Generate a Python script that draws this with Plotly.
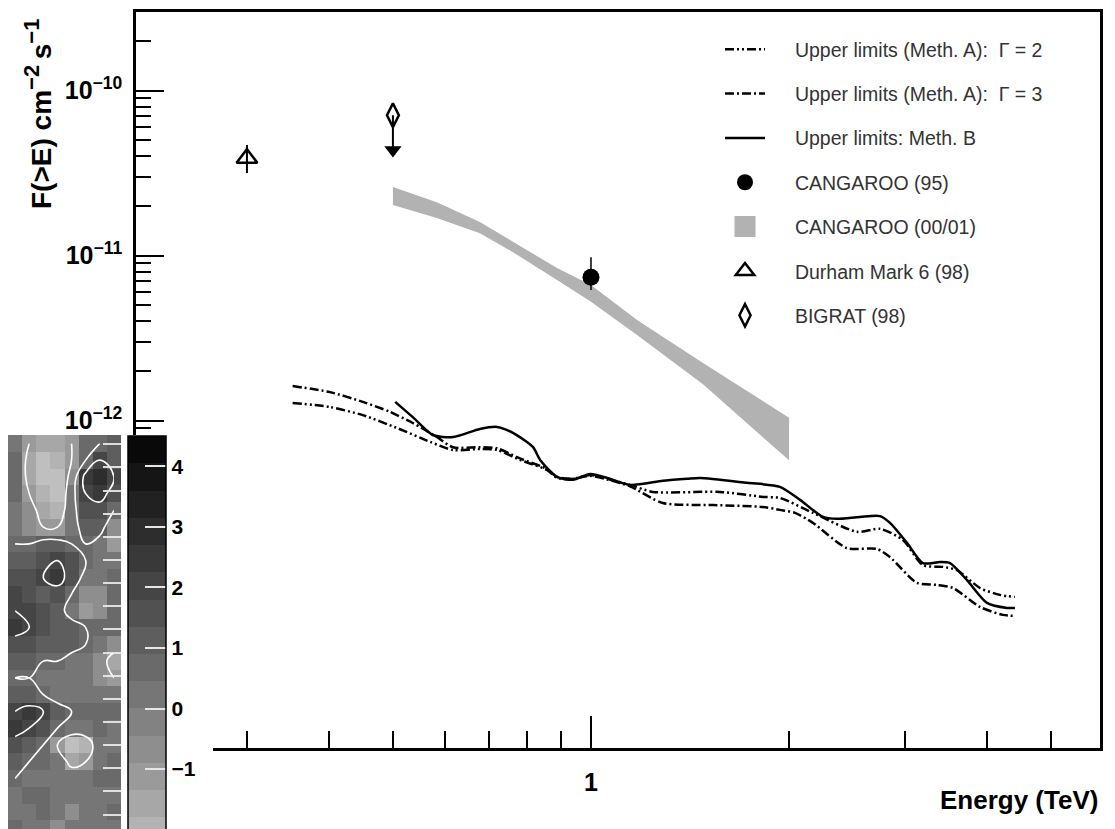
import plotly.graph_objects as go

# ---------------- data ----------------
gamma2_E = [0.352, 0.401, 0.450, 0.507, 0.570, 0.617, 0.678, 0.720, 0.780, 0.857, 0.888, 0.939, 0.997, 1.058,
            1.146, 1.242, 1.571, 1.826, 1.937, 2.175, 2.537, 2.749, 2.979, 3.196, 3.428, 3.600, 3.901, 4.183, 4.409]
gamma2_F = [1.28e-12, 1.21e-12, 1.08e-12, 9.03e-13, 7.43e-13, 6.64e-13, 6.74e-13, 6.64e-13, 5.78e-13, 5.03e-13,
            4.50e-13, 4.44e-13, 4.69e-13, 4.44e-13, 4.08e-13, 3.70e-13, 3.70e-13, 3.45e-13, 3.40e-13, 2.76e-13,
            2.12e-13, 2.21e-13, 1.89e-13, 1.33e-13, 1.30e-13, 1.24e-13, 9.68e-14, 8.79e-14, 8.55e-14]

gamma3_E = [0.352, 0.401, 0.450, 0.495, 0.536, 0.583, 0.617, 0.678, 0.720, 0.780, 0.857, 0.888, 0.939, 0.997,
            1.058, 1.146, 1.286, 1.533, 1.826, 1.937, 2.042, 2.175, 2.449, 2.720, 2.847, 3.129, 3.356, 3.550,
            3.901, 4.227, 4.409]
gamma3_F = [1.62e-12, 1.49e-12, 1.30e-12, 1.13e-12, 9.68e-13, 7.96e-13, 6.90e-13, 6.90e-13, 6.80e-13, 5.90e-13,
            5.10e-13, 4.56e-13, 4.44e-13, 4.63e-13, 4.40e-13, 4.00e-13, 3.17e-13, 3.08e-13, 3.00e-13, 2.88e-13,
            2.76e-13, 2.40e-13, 1.69e-13, 1.67e-13, 1.49e-13, 1.04e-13, 1.01e-13, 9.68e-14, 7.43e-14, 6.65e-14,
            6.55e-14]

methB_E = [0.504, 0.536, 0.575, 0.617, 0.678, 0.720, 0.761, 0.816, 0.837, 0.888, 0.939, 0.997, 1.058, 1.146,
           1.286, 1.399, 1.464, 1.726, 1.937, 2.078, 2.252, 2.365, 2.563, 2.749, 2.847, 3.021, 3.196, 3.392,
           3.513, 3.728, 3.998, 4.287, 4.409]
methB_F = [1.30e-12, 1.05e-12, 8.19e-13, 7.96e-13, 8.91e-13, 9.16e-13, 8.43e-13, 6.93e-13, 5.78e-13, 4.56e-13,
           4.38e-13, 4.75e-13, 4.50e-13, 4.08e-13, 4.32e-13, 4.44e-13, 4.50e-13, 4.20e-13, 3.97e-13, 3.31e-13,
           2.61e-13, 2.54e-13, 2.61e-13, 2.64e-13, 2.40e-13, 1.82e-13, 1.37e-13, 1.39e-13, 1.37e-13, 1.08e-13,
           7.86e-14, 7.33e-14, 7.33e-14]

band_E = [0.500, 0.583, 0.678, 0.761, 0.888, 1.000, 1.175, 1.480, 2.000]
band_hi = [2.61e-11, 2.11e-11, 1.60e-11, 1.21e-11, 8.41e-12, 6.64e-12, 4.07e-12, 2.24e-12, 1.04e-12]
band_lo = [2.03e-11, 1.69e-11, 1.37e-11, 1.05e-11, 7.13e-12, 5.25e-12, 3.31e-12, 1.66e-12, 5.75e-13]

c95_E = [1.0]
c95_F = [7.4e-12]
c95_lo = [6.2e-12]
c95_hi = [9.8e-12]

durham_E = [0.30]
durham_F = [3.9e-11]
durham_lo = [3.17e-11]
durham_hi = [4.69e-11]

bigrat_E = [0.50]
bigrat_F = [7.1e-11]
bigrat_arrow = [4.37e-11]

x_major_ticks = [1]
x_tick_labels = ["1"]
x_minor_ticks = [0.3, 0.4, 0.5, 0.6, 0.7, 0.8, 0.9, 2, 3, 4, 5]
y_major_ticks = [1e-13, 1e-12, 1e-11, 1e-10]
y_tick_labels = ["10<sup>\u221213</sup>", "10<sup>\u221212</sup>", "10<sup>\u221211</sup>", "10<sup>\u221210</sup>"]
y_minor_ticks = [m * 10.0 ** e for e in (-14, -13, -12, -11, -10) for m in range(2, 10)]

legend_names = [
    "Upper limits (Meth. A):\u00a0\u00a0\u0393 = 2",
    "Upper limits (Meth. A):\u00a0\u00a0\u0393 = 3",
    "Upper limits: Meth. B",
    "CANGAROO (95)",
    "CANGAROO (00/01)",
    "Durham Mark 6 (98)",
    "BIGRAT (98)",
]

# significance map inset (rows top -> bottom)
sig_map = [
    [0.0, -1.0, -1.5, -1.5, -1.0, 0.5, 0.5, 1.0],
    [0.5, -1.5, -2.5, -2.0, -1.0, 0.5, 2.0, 1.0],
    [0.5, -1.5, -2.5, -2.5, -0.5, 2.5, 3.0, 2.0],
    [0.5, -1.0, -2.0, -2.5, 0.0, 2.0, 2.5, 1.5],
    [0.0, -0.5, -1.5, -2.0, 0.0, 1.5, 1.5, 0.5],
    [0.0, -0.5, -1.0, -1.0, 0.0, 1.0, 1.0, -0.5],
    [0.5, 0.5, 1.0, 1.0, 0.5, 0.5, 0.0, -1.0],
    [1.0, 1.0, 1.5, 2.0, 1.5, 0.5, 0.0, 0.0],
    [1.5, 1.5, 2.0, 2.5, 1.5, 0.0, 0.0, 0.5],
    [2.0, 1.5, 1.0, 1.5, 0.5, -0.5, -0.5, 0.5],
    [2.0, 2.0, 1.5, 1.0, 0.0, -1.0, -0.5, 0.5],
    [2.5, 2.0, 1.5, 1.0, 1.0, 0.5, 0.5, 0.5],
    [1.5, 1.5, 1.0, 1.0, 1.0, 0.5, 0.0, -0.5],
    [1.0, 1.0, 0.5, 0.5, 0.0, 0.0, -0.5, -1.5],
    [0.5, 0.5, 0.0, 0.0, 0.0, 0.0, -0.5, -1.0],
    [1.0, 1.0, 0.5, 0.0, 0.0, 0.0, 0.0, 0.0],
    [2.0, 2.5, 2.0, 1.0, 0.5, 0.5, 0.5, 0.5],
    [2.5, 2.0, 1.5, 0.5, 0.0, 0.0, 0.5, 0.0],
    [1.5, 1.0, 0.5, -1.0, -2.5, -2.0, 0.0, 0.0],
    [1.0, 0.5, 0.5, 0.0, -1.5, -1.0, 0.0, 0.5],
    [0.5, 0.0, 0.0, 0.0, 0.0, 0.0, 0.5, 0.5],
    [0.0, 0.5, 0.5, 0.0, 0.0, 0.0, 0.0, 0.0],
    [0.0, 0.0, 0.5, 0.0, -0.5, 0.0, 0.0, 0.5],
    [0.5, 0.0, 0.0, -0.5, 0.0, 0.0, 0.0, 0.0],
]
sig_cols = list(range(len(sig_map[0])))
sig_rows = list(range(len(sig_map)))
cbar_ticks = [-2, -1, 0, 1, 2, 3, 4]
cbar_labels = ["\u22122", "\u22121", "0", "1", "2", "3", "4"]

# ---------------- style ----------------
W, H = 1115, 829
OFF = 8          # page body margin in the browser
FONT = "Liberation Sans"
ZMIN, ZMAX, NLEV = -4.5, 4.5, 20
PAD = "\u2002\u2002\u00a0"   # gap between legend sample and text


def px_x(p):
    return (p - OFF) / W


def px_y(p):
    return (H + OFF - p) / H


colorscale = []
for i in range(NLEV):
    vc = ZMIN + (i + 0.5) * (ZMAX - ZMIN) / NLEV
    g = int(max(0, min(255, round(124 - 27 * vc))))
    c = f"rgb({g},{g},{g})"
    colorscale.append([i / NLEV, c])
    colorscale.append([(i + 1) / NLEV, c])

fig = go.Figure()

# CANGAROO (00/01) band
fig.add_trace(go.Scatter(
    x=band_E + band_E[::-1], y=band_hi + band_lo[::-1],
    fill="toself", fillcolor="#b2b2b2", line=dict(width=0), mode="lines",
    showlegend=False, hoverinfo="skip"))
# legend proxy for the band
fig.add_trace(go.Scatter(
    x=[None], y=[None], mode="markers",
    marker=dict(symbol="square", size=32, color="#b2b2b2", line=dict(color="#b2b2b2", width=10)),
    name=PAD + legend_names[4], legendgroup="g5", legendrank=5))

fig.add_trace(go.Scatter(
    x=gamma2_E, y=gamma2_F, mode="lines", line=dict(color="black", width=2.5, shape="spline",
                                                     smoothing=0.7, dash="9px,3px,2px,3px,2px,3px"),
    name=PAD + legend_names[0], legendgroup="g1", legendrank=1))
fig.add_trace(go.Scatter(
    x=gamma3_E, y=gamma3_F, mode="lines", line=dict(color="black", width=2.5, shape="spline",
                                                     smoothing=0.7, dash="9px,3px,2px,3px"),
    name=PAD + legend_names[1], legendgroup="g2", legendrank=2))
fig.add_trace(go.Scatter(
    x=methB_E, y=methB_F, mode="lines", line=dict(color="black", width=2.5, shape="spline", smoothing=0.7),
    name=PAD + legend_names[2], legendgroup="g3", legendrank=3))

# CANGAROO (95)
fig.add_trace(go.Scatter(x=c95_E + c95_E, y=c95_lo + c95_hi, mode="lines",
                         line=dict(color="black", width=1.5), showlegend=False, hoverinfo="skip"))
fig.add_trace(go.Scatter(x=c95_E, y=c95_F, mode="markers",
                         marker=dict(symbol="circle", size=17, color="black"),
                         name=PAD + legend_names[3], legendgroup="g4", legendrank=4))

# Durham Mark 6
fig.add_trace(go.Scatter(x=durham_E + durham_E, y=durham_lo + durham_hi, mode="lines",
                         line=dict(color="black", width=2), showlegend=False, hoverinfo="skip"))
fig.add_trace(go.Scatter(x=durham_E, y=durham_F, mode="markers",
                         marker=dict(symbol="triangle-up-open", size=18, color="black", line=dict(width=2.5)),
                         name=PAD + legend_names[5], legendgroup="g6", legendrank=6))

# BIGRAT upper limit
fig.add_trace(go.Scatter(x=bigrat_E + bigrat_E, y=bigrat_F + bigrat_arrow, mode="lines",
                         line=dict(color="black", width=2), showlegend=False, hoverinfo="skip"))
fig.add_trace(go.Scatter(x=bigrat_E, y=bigrat_arrow, mode="markers",
                         marker=dict(symbol="triangle-down", size=15, color="black"),
                         showlegend=False, hoverinfo="skip"))
fig.add_trace(go.Scatter(x=bigrat_E, y=bigrat_F, mode="markers",
                         marker=dict(symbol="diamond-tall-open", size=17, color="black", line=dict(width=2.5)),
                         name=PAD + legend_names[6], legendgroup="g7", legendrank=7))

# cover subplot (white background over the main axes under the inset)
fig.add_trace(go.Scatter(x=[], y=[], xaxis="x2", yaxis="y2", showlegend=False, hoverinfo="skip"))

# significance map inset
fig.add_trace(go.Heatmap(
    z=sig_map, x=sig_cols, y=sig_rows, xaxis="x3", yaxis="y3",
    zmin=ZMIN, zmax=ZMAX, colorscale=colorscale, showlegend=False,
    colorbar=dict(x=px_x(128), xanchor="left", xref="paper", y=px_y(436), yanchor="top", yref="paper",
                  len=545, lenmode="pixels", thickness=38, thicknessmode="pixels", xpad=0, ypad=0,
                  outlinewidth=1.5, outlinecolor="black", ticks="inside", ticklen=21, tickwidth=1.5,
                  tickcolor="#e6e6e6", tickmode="array", tickvals=cbar_ticks, ticktext=cbar_labels,
                  tickfont=dict(family=FONT, size=21, color="black", weight="bold"))))
fig.add_trace(go.Contour(
    z=sig_map, x=sig_cols, y=sig_rows, xaxis="x3", yaxis="y3", showscale=False,
    contours=dict(coloring="none", start=-1.0, end=2.0, size=1.5),
    line=dict(color="white", width=1.6, smoothing=1.3), hoverinfo="skip", showlegend=False))

tickfont_main = dict(family=FONT, size=25, color="black", weight="bold")

fig.update_layout(
    width=W, height=H, autosize=False,
    margin=dict(l=0, r=0, t=0, b=0, autoexpand=False),
    paper_bgcolor="white", plot_bgcolor="white",
    xaxis=dict(type="log", domain=[px_x(136), px_x(1100)], range=[-0.6915, 0.7736], anchor="y",
               showline=True, linecolor="black", linewidth=2.5, mirror=True,
               ticks="inside", ticklen=32, tickwidth=2, tickcolor="black",
               tickmode="array", tickvals=x_major_ticks, ticktext=x_tick_labels, tickfont=tickfont_main,
               ticklabelstandoff=10, showgrid=False, zeroline=False,
               minor=dict(ticks="inside", ticklen=17, tickwidth=2, tickcolor="black",
                          tickmode="array", tickvals=x_minor_ticks, showgrid=False)),
    yaxis=dict(type="log", domain=[px_y(748), px_y(12)], range=[-13.984, -9.523], anchor="x",
               showline=True, linecolor="black", linewidth=2.5, mirror=True,
               ticks="inside", ticklen=28, tickwidth=2, tickcolor="black",
               tickmode="array", tickvals=y_major_ticks, ticktext=y_tick_labels, tickfont=tickfont_main,
               ticklabelstandoff=6, showgrid=False, zeroline=False,
               minor=dict(ticks="inside", ticklen=15, tickwidth=2, tickcolor="black",
                          tickmode="array", tickvals=y_minor_ticks, showgrid=False)),
    xaxis2=dict(domain=[0, px_x(213)], range=[0, 1], anchor="y2", visible=False),
    yaxis2=dict(domain=[0, px_y(435)], range=[0, 1], anchor="x2", visible=False),
    xaxis3=dict(domain=[0, px_x(121)], range=[-0.5, len(sig_cols) - 0.5], anchor="y3",
                showticklabels=False, ticks="", showgrid=False, zeroline=False, showline=False),
    yaxis3=dict(domain=[0, px_y(435)], range=[len(sig_rows) - 0.5, -0.5], anchor="x3", side="right",
                showticklabels=False, ticks="inside", ticklen=18, tickwidth=1.5, tickcolor="rgba(235,235,235,0.9)",
                tickmode="linear", tick0=0.05, dtick=1.382, showgrid=False, zeroline=False, showline=False),
    legend=dict(x=px_x(720), y=px_y(30), xanchor="left", yanchor="top", xref="paper", yref="paper",
                bgcolor="rgba(0,0,0,0)", borderwidth=0, itemwidth=40, tracegroupgap=16,
                traceorder="grouped", font=dict(family=FONT, size=19.5, color="#333333")),
    showlegend=True,
    annotations=[
        dict(text="F(>E) cm<sup><span style='font-size:22px'>\u22122</span></sup>\u2009"
                  "s<sup><span style='font-size:22px'>\u22121</span></sup>",
             textangle=-90, x=px_x(38), y=px_y(114),
             xref="paper", yref="paper", xanchor="center", yanchor="middle", showarrow=False,
             font=dict(family=FONT, size=28, color="black", weight="bold")),
        dict(text="Energy (TeV)", x=px_x(1100), y=px_y(800), xref="paper", yref="paper",
             xanchor="right", yanchor="middle", showarrow=False,
             font=dict(family=FONT, size=26, color="black", weight="bold")),
    ],
)

fig.write_html("out.html")
